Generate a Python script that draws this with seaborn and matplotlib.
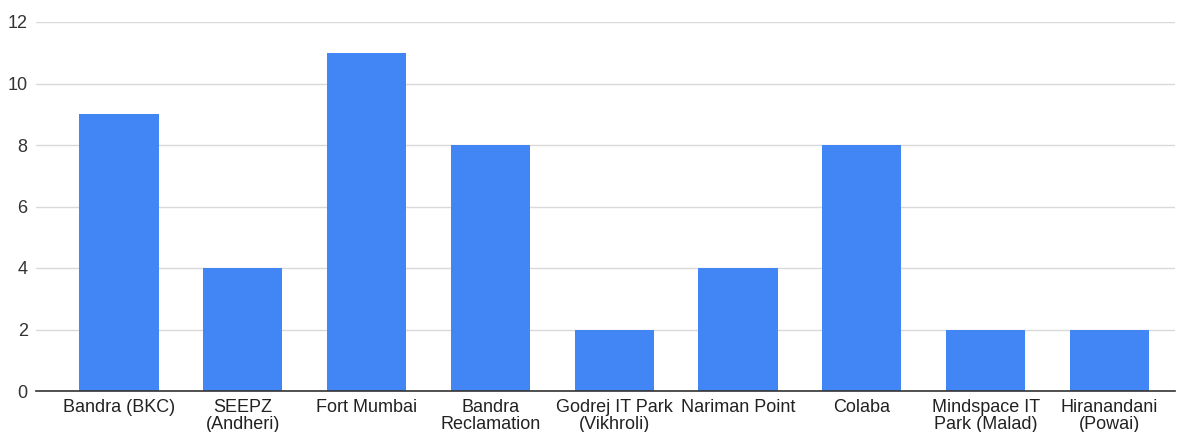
import matplotlib
matplotlib.use("Agg")
import matplotlib.pyplot as plt
import seaborn as sns
import pandas as pd

categories = ["Bandra (BKC)", "SEEPZ\n(Andheri)", "Fort Mumbai", "Bandra\nReclamation",
              "Godrej IT Park\n(Vikhroli)", "Nariman Point", "Colaba",
              "Mindspace IT\nPark (Malad)", "Hiranandani\n(Powai)"]
values = [9, 4, 11, 8, 2, 4, 8, 2, 2]
yticks = [0, 2, 4, 6, 8, 10, 12]

sns.set_theme(style="white")
plt.rcParams['font.family'] = ['Liberation Sans', 'DejaVu Sans']

df = pd.DataFrame({"cat": categories, "val": values})
fig = plt.figure(figsize=(11.77, 4.32), dpi=100)
ax = fig.add_axes([36/1177, 1 - 391/432, (1175-36)/1177, (391-22)/432])
sns.barplot(data=df, x="cat", y="val", color="#4285F4", width=0.64, ax=ax,
            saturation=1, edgecolor="none")
ax.set_ylim(0, 12)
ax.set_yticks(yticks)
ax.set_xlim(-0.67, len(categories) - 0.47)
ax.yaxis.grid(True, color="#d9d9d9", linewidth=1)
ax.set_axisbelow(True)
for s in ["top", "right", "left"]:
    ax.spines[s].set_visible(False)
ax.spines["bottom"].set_color("#333333")
ax.spines["bottom"].set_linewidth(1.2)
ax.set_xlabel("")
ax.set_ylabel("")
ax.tick_params(axis="both", length=0, labelsize=13, colors="#222222")
ax.tick_params(axis="y", pad=6)
ax.tick_params(axis="x", pad=6)
for lbl in ax.get_xticklabels():
    lbl.set_linespacing(1.0)
for lbl in ax.get_yticklabels():
    lbl.set_color("#333333")
fig.savefig("out.png", dpi=100)
